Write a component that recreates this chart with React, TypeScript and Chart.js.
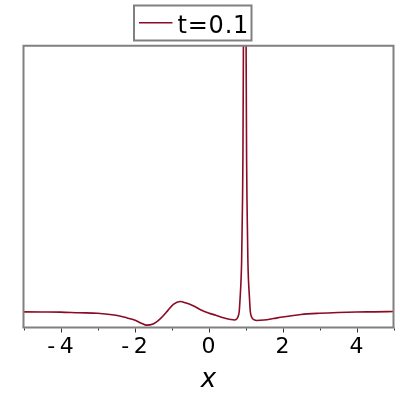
import React, { useEffect, useRef } from "react";
import { Chart, registerables } from "chart.js";

Chart.register(...registerables);

// ---- data ----
const seriesLabel = "t=0.1";
const xValues = [
  -5, -4.5, -4, -3.5, -3, -2.5, -2.2, -2, -1.8, -1.68, -1.5, -1.3, -1.1, -0.95,
  -0.77, -0.6, -0.4, -0.2, 0, 0.2, 0.4, 0.6, 0.7, 0.76, 0.8, 0.83, 0.855, 0.88,
  0.895, 0.908, 0.92, 0.93, 0.94, 0.95, 0.98, 1.01, 1.02, 1.03, 1.04, 1.052,
  1.065, 1.08, 1.105, 1.13, 1.16, 1.2, 1.3, 1.5, 1.75, 2, 2.5, 3, 3.5, 4, 4.5, 5,
];
const yValues = [
  1.0, 0.99, 0.98, 0.94, 0.91, 0.78, 0.61, 0.48, 0.26, 0.15, 0.22, 0.57, 1.08,
  1.47, 1.66, 1.56, 1.37, 1.12, 0.93, 0.78, 0.62, 0.51, 0.48, 0.54, 0.7, 1.02,
  1.91, 3.06, 4.21, 6.26, 8.17, 10.72, 15.83, 24.13, 100, 24.13, 15.83, 10.72,
  8.17, 6.26, 4.21, 3.06, 1.98, 1.02, 0.7, 0.54, 0.45, 0.48, 0.57, 0.67, 0.83,
  0.91, 0.96, 0.99, 1.0, 1.02,
];
const majorTicks = [-4, -2, 0, 2, 4];
const minorTicks = [-5, -3, -1, 1, 3, 5];
const xMin = -5;
const xMax = 5;
const yMin = 0;
const yMax = 18;

const lineColor = "#8a0b25";
const frameColor = "#808080";
const fontFamily = "'DejaVu Sans', sans-serif";

export default function App() {
  const ref = useRef<HTMLCanvasElement>(null);

  useEffect(() => {
    const canvas = ref.current;
    if (!canvas) return;

    const framePlugin = {
      id: "frameAndLegend",
      afterDatasetsDraw(chart: any) {
        const { ctx, chartArea: a, scales } = chart;
        const xs = scales.x;
        ctx.save();
        // frame: left, top, right
        ctx.strokeStyle = frameColor;
        ctx.lineWidth = 2;
        ctx.beginPath();
        ctx.moveTo(a.left, a.bottom);
        ctx.lineTo(a.left, a.top);
        ctx.lineTo(a.right, a.top);
        ctx.lineTo(a.right, a.bottom);
        ctx.stroke();
        // bottom axis
        ctx.beginPath();
        ctx.moveTo(a.left - 1, a.bottom);
        ctx.lineTo(a.right + 1, a.bottom);
        ctx.stroke();
        // ticks
        ctx.strokeStyle = "#333333";
        ctx.lineWidth = 1;
        const drawTick = (v: number, len: number) => {
          const px = Math.round(xs.getPixelForValue(v)) + 0.5;
          ctx.beginPath();
          ctx.moveTo(px, a.bottom + 1);
          ctx.lineTo(px, a.bottom + 1 + len);
          ctx.stroke();
        };
        majorTicks.forEach((v) => drawTick(v, 4));
        minorTicks.forEach((v) => drawTick(v, 2));

        // legend
        ctx.strokeStyle = frameColor;
        ctx.lineWidth = 2;
        ctx.strokeRect(134, 5.5, 117.5, 35);
        ctx.strokeStyle = lineColor;
        ctx.lineWidth = 1.6;
        ctx.beginPath();
        ctx.moveTo(139, 22.7);
        ctx.lineTo(172.5, 22.7);
        ctx.stroke();
        ctx.fillStyle = "#000000";
        ctx.font = `24px ${fontFamily}`;
        ctx.textAlign = "left";
        ctx.textBaseline = "alphabetic";
        try {
          (ctx as any).letterSpacing = "0.8px";
        } catch (e) {}
        ctx.fillText(seriesLabel, 177.5, 33);
        ctx.restore();
      },
    };

    const chart = new Chart(canvas, {
      type: "line",
      data: {
        datasets: [
          {
            label: seriesLabel,
            data: xValues.map((x, i) => ({ x, y: yValues[i] })),
            borderColor: lineColor,
            backgroundColor: lineColor,
            borderWidth: 1.6,
            pointRadius: 0,
            cubicInterpolationMode: "monotone",
            fill: false,
          },
        ],
      },
      options: {
        responsive: false,
        animation: false,
        layout: { padding: { left: 23.5, right: 6.5, top: 45.7, bottom: 0 } },
        plugins: {
          legend: { display: false },
          tooltip: { enabled: false },
        },
        scales: {
          x: {
            type: "linear",
            min: xMin,
            max: xMax,
            grid: { display: false, drawTicks: false },
            border: { display: false },
            afterBuildTicks: (s: any) => {
              s.ticks = majorTicks.map((v) => ({ value: v }));
            },
            afterFit: (s: any) => {
              s.height = 72.5;
            },
            ticks: {
              padding: 7,
              autoSkip: false,
              maxRotation: 0,
              color: "#000000",
              font: { family: fontFamily, size: 22 },
              callback: (v: any) =>
                Number(v) < 0 ? "-\u2009" + Math.abs(Number(v)) : String(v),
            },
            title: {
              display: true,
              text: "x",
              color: "#000000",
              font: { family: fontFamily, size: 26, style: "italic" },
              padding: { top: 0, bottom: 4 },
            },
          },
          y: {
            type: "linear",
            min: yMin,
            max: yMax,
            display: false,
          },
        },
      },
      plugins: [framePlugin],
    });

    return () => chart.destroy();
  }, []);

  return (
    <div style={{ position: "fixed", left: 0, top: 0, width: 400, height: 400, background: "#ffffff" }}>
      <canvas ref={ref} width={400} height={400} style={{ display: "block" }} />
    </div>
  );
}
